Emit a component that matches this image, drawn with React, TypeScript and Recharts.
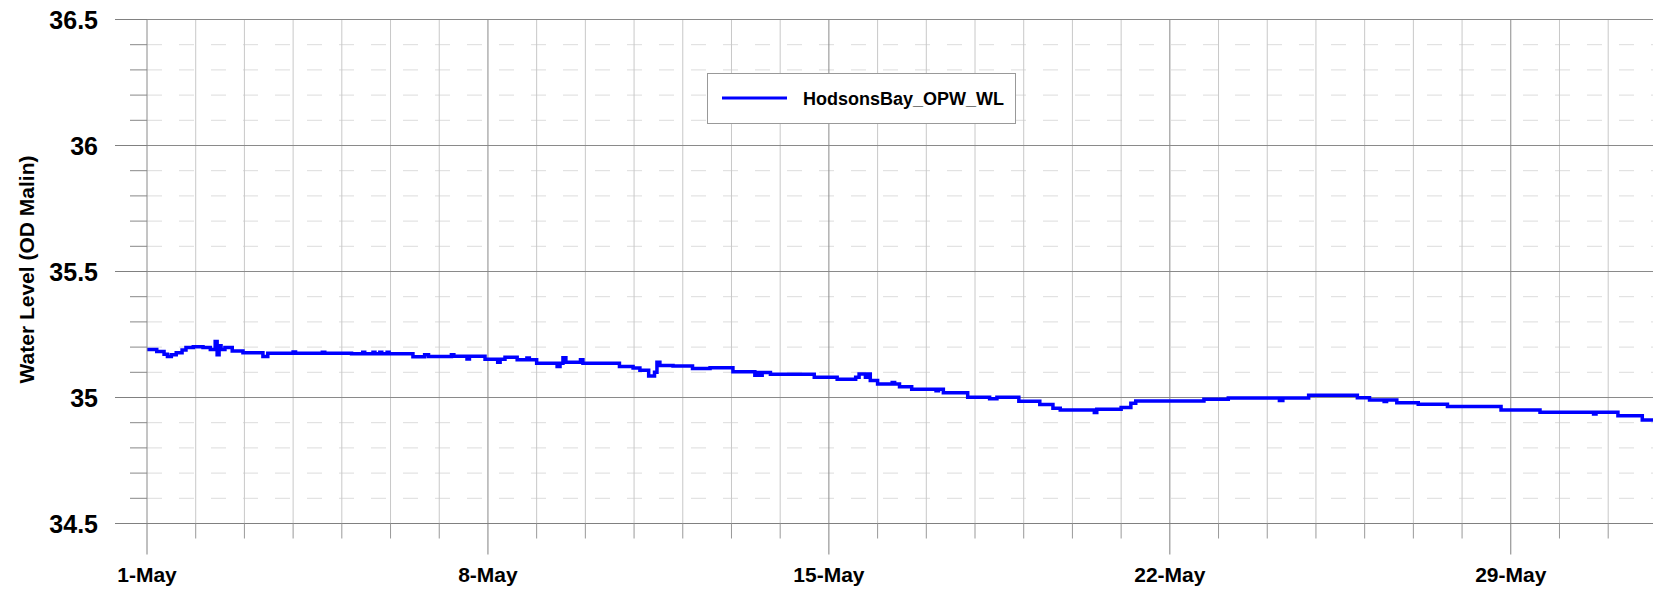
import React from "react";
import { LineChart, Line, XAxis, YAxis, ReferenceLine, Legend } from "recharts";

// time in days since 1-May 00:00, water level (m OD Malin)
const days = [
  0, 0.2, 0.35, 0.42, 0.5, 0.6, 0.72, 0.8, 0.95, 1.15, 1.3, 1.4, 1.44, 1.48,
  1.52, 1.6, 1.75, 1.97, 2.38, 2.48, 3.0, 3.05, 3.6, 3.65, 4.2, 4.43, 4.47,
  4.64, 4.68, 4.78, 4.82, 4.93, 4.97, 5.46, 5.7, 5.78, 6.25, 6.3, 6.57, 6.62,
  6.94, 7.2, 7.25, 7.35, 7.6, 7.8, 7.85, 8.0, 8.42, 8.48, 8.54, 8.6, 8.9, 8.95,
  9.7, 9.98, 10.12, 10.3, 10.42, 10.47, 10.53, 10.8, 11.2, 11.56, 12.03, 12.48,
  12.53, 12.58, 12.63, 12.8, 13.7, 14.17, 14.55, 14.62, 14.75, 14.8, 14.85,
  15.0, 15.3, 15.35, 15.45, 15.7, 16.2, 16.25, 16.35, 16.85, 17.3, 17.45, 17.9,
  18.33, 18.6, 18.75, 19.45, 19.5, 20.0, 20.2, 20.3, 21.7, 22.2, 23.25, 23.32,
  23.85, 24.85, 25.1, 25.4, 25.45, 25.66, 26.1, 26.7, 27.8, 28.6, 29.7, 29.75,
  30.2, 30.7, 30.92,
];
const level = [
  35.19, 35.183, 35.172, 35.163, 35.17, 35.178, 35.188, 35.198, 35.201, 35.198,
  35.19, 35.222, 35.17, 35.205, 35.19, 35.198, 35.185, 35.178, 35.163, 35.176,
  35.181, 35.176, 35.18, 35.176, 35.174, 35.18, 35.174, 35.18, 35.174, 35.18,
  35.174, 35.18, 35.174, 35.162, 35.17, 35.163, 35.17, 35.164, 35.153, 35.164,
  35.152, 35.14, 35.152, 35.16, 35.15, 35.157, 35.15, 35.136, 35.123, 35.136,
  35.158, 35.14, 35.15, 35.136, 35.123, 35.117, 35.108, 35.085, 35.1, 35.14,
  35.127, 35.125, 35.115, 35.118, 35.102, 35.088, 35.099, 35.088, 35.099,
  35.092, 35.08, 35.072, 35.08, 35.093, 35.08, 35.093, 35.067, 35.054, 35.06,
  35.054, 35.043, 35.033, 35.027, 35.033, 35.019, 35.001, 34.995, 35.001,
  34.985, 34.972, 34.957, 34.95, 34.94, 34.953, 34.96, 34.977, 34.986, 34.993,
  34.998, 34.988, 34.998, 35.009, 34.999, 34.99, 34.984, 34.99, 34.979, 34.973,
  34.964, 34.95, 34.941, 34.935, 34.941, 34.928, 34.911, 34.911,
];

const dayTicks = [
  0, 1, 2, 3, 4, 5, 6, 7, 8, 9, 10, 11, 12, 13, 14, 15, 16, 17, 18, 19, 20, 21,
  22, 23, 24, 25, 26, 27, 28, 29, 30,
];
const labelDays = [0, 7, 14, 21, 28];
const dateLabels = ["1-May", "8-May", "15-May", "22-May", "29-May"];

const yTicks = [
  34.5, 34.6, 34.7, 34.8, 34.9, 35, 35.1, 35.2, 35.3, 35.4, 35.5, 35.6, 35.7,
  35.8, 35.9, 36, 36.1, 36.2, 36.3, 36.4, 36.5,
];
const yMajor = [34.5, 35, 35.5, 36, 36.5];

const data = days.map((d, i) => ({ day: d, level: level[i] }));

const FONT = "'Liberation Sans', Arial, sans-serif";

function XTick(props: any) {
  const { x, y, payload } = props;
  const idx = labelDays.indexOf(payload.value);
  const major = idx >= 0;
  return (
    <g>
      <line
        x1={x}
        x2={x}
        y1={y}
        y2={y + (major ? 31 : 15)}
        stroke={major ? "#808080" : "#999"}
      />
      {major && (
        <text
          x={x}
          y={y + 58}
          textAnchor="middle"
          fontSize={21}
          fontWeight="bold"
          fontFamily={FONT}
          fill="#000"
        >
          {dateLabels[idx]}
        </text>
      )}
    </g>
  );
}

function YTick(props: any) {
  const { x, y, payload } = props;
  const major = yMajor.indexOf(payload.value) >= 0;
  return (
    <g>
      <line
        x1={x - (major ? 32 : 17)}
        x2={x}
        y1={y}
        y2={y}
        stroke={major ? "#808080" : "#888"}
      />
      {major && (
        <text
          x={x - 49}
          y={y + 9}
          textAnchor="end"
          fontSize={25}
          fontWeight="bold"
          fontFamily={FONT}
          fill="#000"
        >
          {String(payload.value)}
        </text>
      )}
    </g>
  );
}

function YTitle(props: any) {
  const vb = props.viewBox || { y: 19.5, height: 504 };
  const cy = vb.y + vb.height / 2 - 2;
  return (
    <text
      x={26}
      y={cy}
      transform={`rotate(-90 26 ${cy})`}
      textAnchor="middle"
      dominantBaseline="central"
      fontSize={21}
      fontWeight="bold"
      fontFamily={FONT}
      fill="#000"
    >
      Water Level (OD Malin)
    </text>
  );
}

function LegendBox(props: any) {
  const item = props.payload && props.payload[0];
  return (
    <svg width={309} height={51} style={{ display: "block" }}>
      <rect x={0.5} y={0.5} width={308} height={50} fill="#fff" stroke="#999" />
      <line x1={15} x2={80} y1={25} y2={25} stroke="#0000ff" strokeWidth={3} />
      <text
        x={96}
        y={32}
        fontSize={18}
        fontWeight="bold"
        fontFamily={FONT}
        fill="#000"
      >
        {item ? item.value : ""}
      </text>
    </svg>
  );
}

export default function App() {
  return (
    <div
      style={{
        position: "absolute",
        left: 0,
        top: 0,
        width: 1653,
        height: 590,
        background: "#fff",
        fontFamily: FONT,
      }}
    >
      <LineChart
        width={1653}
        height={590}
        data={data}
        margin={{ top: 19.5, right: 0, left: 0, bottom: 0 }}
      >
        <XAxis
          dataKey="day"
          type="number"
          domain={[0, 30.92]}
          ticks={dayTicks}
          interval={0}
          height={66.5}
          tickSize={0}
          tickMargin={0}
          tickLine={false}
          axisLine={{ stroke: "#808080" }}
          tick={<XTick />}
          allowDataOverflow
        />
        <YAxis
          type="number"
          domain={[34.5, 36.5]}
          ticks={yTicks}
          interval={0}
          width={147}
          tickSize={0}
          tickMargin={0}
          tickLine={false}
          axisLine={{ stroke: "#8a8a8a" }}
          tick={<YTick />}
          label={<YTitle />}
          allowDataOverflow
        />
        {yTicks
          .filter((v) => yMajor.indexOf(v) < 0)
          .map((v) => (
            <ReferenceLine
              key={"hy" + v}
              y={v}
              stroke="#dcdcdc"
              strokeDasharray="15 17"
            />
          ))}
        {dayTicks
          .filter((d) => d > 0)
          .map((d) => (
            <ReferenceLine
              key={"vx" + d}
              x={d}
              stroke={labelDays.indexOf(d) >= 0 ? "#8a8a8a" : "#c8c8c8"}
            />
          ))}
        {yMajor.map((v) => (
          <ReferenceLine key={"my" + v} y={v} stroke="#8a8a8a" />
        ))}
        <Legend
          layout="horizontal"
          verticalAlign="middle"
          align="center"
          content={<LegendBox />}
          wrapperStyle={{ left: 707, top: 73, width: 309, height: 51 }}
        />
        <Line
          type="stepAfter"
          dataKey="level"
          name="HodsonsBay_OPW_WL"
          stroke="#0000ff"
          strokeWidth={3.5}
          dot={false}
          isAnimationActive={false}
        />
      </LineChart>
    </div>
  );
}
